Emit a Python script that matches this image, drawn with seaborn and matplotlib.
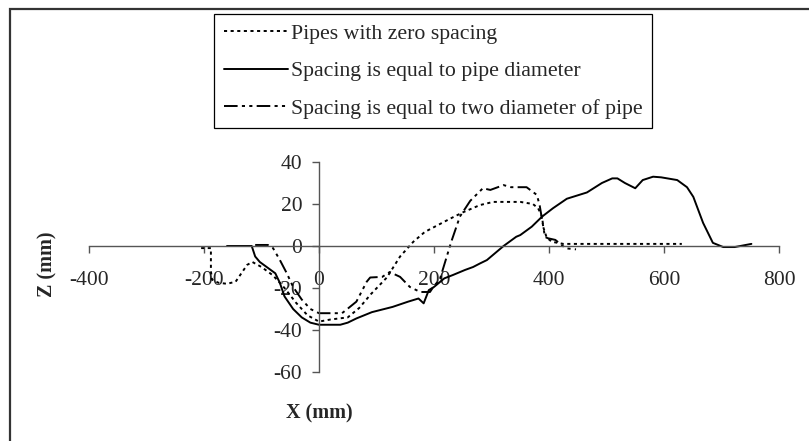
import matplotlib
matplotlib.use("Agg")
import matplotlib.pyplot as plt
import matplotlib.patches as patches
import seaborn as sns

# profile data (X mm, Z mm)
zero_x = [-205, -188, -188, -186, -175, -160, -145, -135, -125, -116, -100, -80, -60, -40, -20, 0, 20, 50, 70, 90, 118, 141, 164, 184, 228, 250, 280, 303, 350, 372, 381, 388, 390, 396, 405, 425, 631]
zero_z = [-1, -1, -12, -16, -17.5, -18, -17, -13, -9, -7.6, -10, -14, -20, -27, -33, -36, -35, -34, -29.5, -23, -15, -5, 2, 6.7, 13, 16, 19.5, 21, 21, 20, 18, 14, 9, 4, 2, 1, 1]

one_x = [-160, -117, -111, -103, -91, -76, -68, -60, -45, -30, -15, 0, 37, 50, 65, 92, 128, 155, 173, 182, 191, 200, 218, 233, 254, 268, 280, 292, 321, 343, 350, 370, 388, 407, 431, 466, 492, 510, 519, 532, 550, 563, 581, 595, 623, 640, 651, 668, 685, 703, 723, 752]
one_z = [0, 0, -5, -7.6, -10, -13, -17.6, -24, -30, -34, -36.5, -37.5, -37.5, -36.5, -34.5, -31.5, -29, -26.5, -25, -27.3, -21, -19.5, -15.4, -13.8, -11.4, -10, -8.3, -6.7, 0, 4.4, 5.2, 9.2, 14, 18, 22.5, 25.5, 30, 32.2, 32.2, 30, 27.5, 31.4, 33, 32.7, 31.4, 28, 23.4, 11, 1.5, -0.5, -0.5, 1]

two_x = [-111, -89, -80, -68, -56, -45, -30, -15, 0, 40, 47, 65, 83, 89, 110, 123, 141, 158, 176, 193, 200, 210, 220, 230, 245, 263, 285, 298, 321, 334, 361, 379, 384, 393, 398, 411, 429, 447]
two_z = [0.5, 0.5, -1, -6.7, -13, -19.5, -25.5, -30, -32, -32, -30.5, -26.5, -17, -15, -14.7, -12.4, -14.7, -19.5, -21.9, -21.9, -19, -16, -7, 2, 14, 21.5, 27.5, 26.7, 29, 28, 28, 24.3, 19, 4.3, 3.7, 2.9, -1.1, -1.6]

labels = ["Pipes with zero spacing", "Spacing is equal to pipe diameter",
          "Spacing is equal to two diameter of pipe"]
x_ticks = [-400, -200, 0, 200, 400, 600, 800]
z_ticks = [-60, -40, -20, 0, 20, 40]

sns.set_style("white")
plt.rcParams["font.family"] = ["Liberation Serif", "DejaVu Serif"]

fig = plt.figure(figsize=(8.09, 4.41), dpi=100)
W, H = 809, 441
ax = fig.add_axes([89 / W, 1 - 372 / H, (779 - 89) / W, (372 - 162) / H])

sns.lineplot(x=zero_x, y=zero_z, ax=ax, estimator=None, sort=False, color="black",
             linewidth=1.4, linestyle=(0, (1.6, 1.8)), label=labels[0])
sns.lineplot(x=one_x, y=one_z, ax=ax, estimator=None, sort=False, color="black",
             linewidth=1.4, linestyle="-", label=labels[1])
sns.lineplot(x=two_x, y=two_z, ax=ax, estimator=None, sort=False, color="black",
             linewidth=1.4, linestyle=(0, (7, 2.2, 1.6, 2.2, 1.6, 2.2)), label=labels[2])

ax.set_xlim(-400, 800)
ax.set_ylim(-60, 40)
ax.set_xticks(x_ticks)
ax.set_yticks(z_ticks)
ax.set_xticklabels([str(t) for t in x_ticks])
ax.set_yticklabels([str(t) for t in z_ticks])

for s in ["top", "right"]:
    ax.spines[s].set_visible(False)
ax.spines["left"].set_position(("data", 0))
ax.spines["bottom"].set_position(("data", 0))
for s in ["left", "bottom"]:
    ax.spines[s].set_color("#555555")
    ax.spines[s].set_linewidth(1.0)
ax.tick_params(axis="x", direction="out", length=5, width=1, color="#555555",
               pad=13, labelsize=15.5, bottom=True)
ax.tick_params(axis="y", direction="out", length=5, width=1, color="#555555",
               pad=7, labelsize=15.5, left=True)
ax.set_xlabel("")
ax.set_ylabel("")
ax.patch.set_alpha(0)

fig.text(47 / W, 1 - 264 / H, "Z (mm)", rotation=90, ha="center", va="center",
         fontsize=14.5, fontweight="bold")
fig.text(319 / W, 1 - 413 / H, "X (mm)", ha="center", va="center",
         fontsize=14.5, fontweight="bold")

handles, _ = ax.get_legend_handles_labels()
ax.get_legend().remove()
leg = fig.legend(handles, labels, loc="upper left",
                 bbox_to_anchor=(214 / W, 1 - 14 / H), borderaxespad=0,
                 fontsize=15.7, handlelength=2.94, handletextpad=0.14,
                 labelspacing=0.78, borderpad=0.45, fancybox=False, framealpha=1)
leg.get_frame().set_edgecolor("black")
leg.get_frame().set_linewidth(0.9)

# outer chart frame (only left and top edges visible in the crop)
fig.add_artist(patches.Rectangle((9.5 / W, -0.1), 1.2, 1.1 - 9 / H, fill=False,
                                 edgecolor="#333333", linewidth=1.6,
                                 transform=fig.transFigure))

fig.savefig("out.png", dpi=100)
